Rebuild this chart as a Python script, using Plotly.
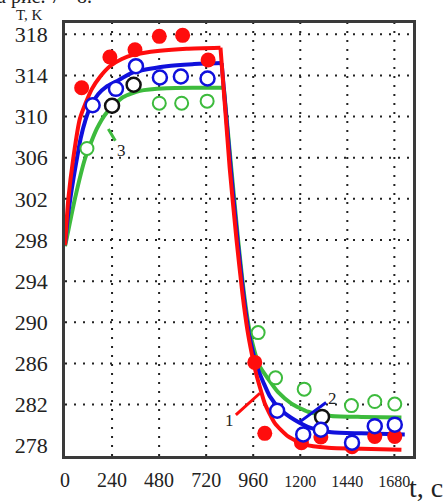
import plotly.graph_objects as go

# ---- model curves (t in s, T in K) ----
red_t = [0, 17, 42, 76, 136, 180, 229, 290, 347, 484, 620, 793,
         840, 875, 905, 930, 952, 975, 1000, 1019, 1070, 1138, 1223, 1342, 1512, 1716]
red_T = [297.5, 302.0, 305.9, 309.8, 312.65, 313.9, 314.9, 315.6, 316.0, 316.4, 316.6, 316.7,
         305.0, 298.0, 292.8, 289.3, 287.0, 285.0, 283.3, 282.1, 280.2, 278.9, 278.1, 277.8, 277.7, 277.6]

blue_t = [0, 15, 34, 55, 80, 105, 130, 170, 210, 260, 348, 518, 650, 799,
          845, 880, 910, 935, 960, 985, 1011, 1045, 1100, 1172, 1257, 1359, 1512, 1733]
blue_T = [297.5, 300.3, 302.9, 305.3, 307.9, 309.7, 311.0, 312.2, 312.9, 313.4, 314.3, 314.9, 315.1, 315.2,
          305.0, 298.0, 292.8, 289.3, 287.0, 285.4, 284.2, 282.8, 281.5, 280.5, 279.7, 279.3, 279.2, 279.1]

green_t = [0, 9, 51, 102, 162, 213, 297, 382, 518, 650, 810,
           848, 883, 913, 940, 965, 990, 1036, 1087, 1155, 1240, 1359, 1512, 1716]
green_T = [297.4, 298.2, 302.05, 305.9, 308.8, 310.4, 311.9, 312.5, 312.75, 312.8, 312.8,
           305.0, 298.0, 292.8, 289.3, 287.3, 285.8, 284.5, 283.2, 282.1, 281.3, 280.9, 280.8, 280.75]

# index where the heating branch ends and cooling begins
red_split, blue_split, green_split = 11, 13, 10

# ---- measured points ----
red_pts_t = [85, 229, 357, 481, 600, 730, 968, 1019, 1206, 1305, 1464, 1580, 1682]
red_pts_T = [312.8, 315.8, 316.5, 317.8, 317.9, 315.5, 286.1, 279.2, 278.3, 278.85, 277.9, 278.9, 278.9]

blue_pts_t = [141, 260, 362, 484, 591, 727, 1082, 1215, 1305, 1464, 1580, 1682]
blue_pts_T = [311.1, 312.7, 314.9, 313.8, 313.9, 313.7, 281.4, 279.1, 279.55, 278.3, 279.9, 280.05]

black_pts_t = [240, 350, 1311]
black_pts_T = [311.05, 313.1, 280.8]

green_pts_t = [112, 481, 595, 725, 985, 1074, 1220, 1461, 1580, 1682]
green_pts_T = [306.9, 311.3, 311.3, 311.5, 289.0, 284.6, 283.5, 281.9, 282.3, 282.05]

# ---- axes ----
x_ticks = [0, 240, 480, 720, 960, 1200, 1440, 1680]
x_ticktext = ["0", "240", "480", "720", "960",
              '<span style="font-size:16px">1200</span>',
              '<span style="font-size:16px">1440</span>',
              '<span style="font-size:16px">1680</span>']
y_ticks = [278, 282, 286, 290, 294, 298, 302, 306, 310, 314, 318]
x_range = [0, 1775]
y_range = [277.0, 319.1]

RED = "#ff0d0d"
BLUE = "#1010dc"
GREEN = "#3dbb3d"
SERIF = "Liberation Serif"
GRID = dict(color="#222222", width=2, dash="2px,7px")

fig = go.Figure()

# sparse dotted grid drawn under the data
for xv in x_ticks[1:]:
    fig.add_shape(type="line", xref="x", yref="paper", x0=xv, x1=xv, y0=0, y1=1,
                  line=GRID, layer="below")
for yv in y_ticks[1:]:
    fig.add_shape(type="line", xref="paper", yref="y", x0=0, x1=1, y0=yv, y1=yv,
                  line=GRID, layer="below")

# each curve: heating branch and cooling branch share the corner point
for t, T, k, c in [(green_t, green_T, green_split, GREEN),
                   (blue_t, blue_T, blue_split, BLUE),
                   (red_t, red_T, red_split, RED)]:
    for seg in (slice(0, k + 1), slice(k, None)):
        fig.add_trace(go.Scatter(x=t[seg], y=T[seg], mode="lines",
                                 line=dict(color=c, width=4, shape="spline", smoothing=0.6),
                                 hoverinfo="skip", showlegend=False))

fig.add_trace(go.Scatter(x=red_pts_t, y=red_pts_T, mode="markers",
                         marker=dict(symbol="circle", size=15, color=RED, line=dict(width=0)),
                         showlegend=False))
fig.add_trace(go.Scatter(x=green_pts_t, y=green_pts_T, mode="markers",
                         marker=dict(symbol="circle", size=13, color="white",
                                     line=dict(width=2, color=GREEN)),
                         showlegend=False))
fig.add_trace(go.Scatter(x=black_pts_t, y=black_pts_T, mode="markers",
                         marker=dict(symbol="circle", size=14, color="white",
                                     line=dict(width=2.5, color="#111111")),
                         showlegend=False))
fig.add_trace(go.Scatter(x=blue_pts_t, y=blue_pts_T, mode="markers",
                         marker=dict(symbol="circle", size=14, color="white",
                                     line=dict(width=2.5, color=BLUE)),
                         showlegend=False))

# curve numbers with leader lines
for txt, t, T, c, ax, ay in [("1", 994, 283.1, RED, -30, 27),
                             ("2", 1189, 280.2, BLUE, 34, -25),
                             ("3", 221, 308.8, GREEN, 13, 22)]:
    fig.add_annotation(x=t, y=T, text=txt, showarrow=True, arrowhead=0,
                       arrowwidth=3, arrowcolor=c, ax=ax, ay=ay,
                       font=dict(family=SERIF, size=17, color="#222222"))

# axis titles and caption fragment
fig.add_annotation(xref="paper", yref="paper", x=-0.1006, y=1.0183, text="T, K",
                   xanchor="center", yanchor="middle", showarrow=False,
                   font=dict(family=SERIF, size=15, color="#222222"))
fig.add_annotation(xref="paper", yref="paper", x=0.983, y=-0.0732, text="t, c",
                   xanchor="left", yanchor="middle", showarrow=False,
                   font=dict(family=SERIF, size=28, color="#222222"))
fig.add_annotation(xref="paper", yref="paper", x=-0.2, y=1.029, text="а рис. 7 - 8.",
                   xanchor="left", yanchor="bottom", showarrow=False,
                   font=dict(family=SERIF, size=20, color="#222222"))

axis_common = dict(showline=True, mirror=True, linecolor="#3a3a3a", linewidth=2.5,
                   showgrid=False, zeroline=False, ticks="")

fig.update_xaxes(range=x_range, tickmode="array", tickvals=x_ticks, ticktext=x_ticktext,
                 tickfont=dict(family=SERIF, size=20, color="#222222"),
                 ticklabelstandoff=4, **axis_common)
fig.update_yaxes(range=y_range, tickmode="array", tickvals=y_ticks,
                 tickfont=dict(family=SERIF, size=22, color="#222222"),
                 ticklabelstandoff=10, **axis_common)

fig.update_layout(width=443, height=503, margin=dict(l=65, r=30, t=23, b=43),
                  plot_bgcolor="white", paper_bgcolor="white", showlegend=False)

fig.write_html("out.html")
